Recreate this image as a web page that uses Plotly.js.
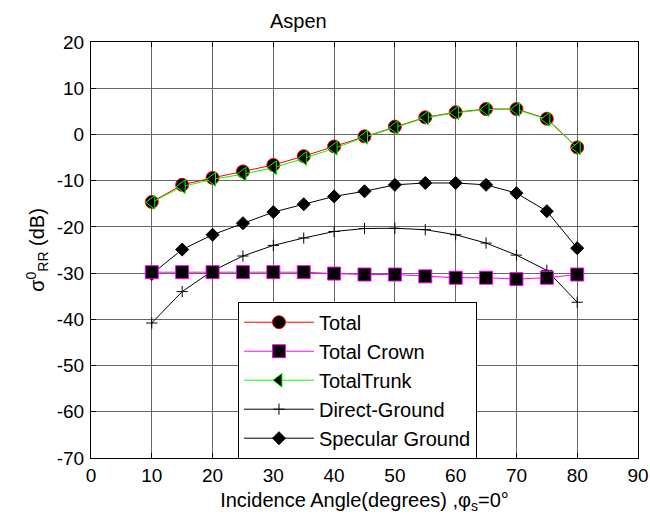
<!DOCTYPE html>
<html>
<head>
<meta charset="utf-8">
<script src="https://cdn.plot.ly/plotly-3.0.1.min.js"></script>
<style>html,body{margin:0;padding:0;background:#fff;}#chart{width:650px;height:516px;}</style>
</head>
<body>
<div id="chart"></div>
<script>
// Incidence angles (degrees)
const angles = [10, 15, 20, 25, 30, 35, 40, 45, 50, 55, 60, 65, 70, 75, 80];
// Backscatter sigma0 RR (dB)
const totalVals = [-14.6, -10.9, -9.4, -8.0, -6.6, -4.7, -2.6, -0.4, 1.7, 3.7, 4.8, 5.5, 5.5, 3.4, -2.8];
const crownVals = [-29.8, -29.8, -29.8, -29.8, -29.8, -29.8, -30.1, -30.3, -30.3, -30.7, -31.0, -31.0, -31.3, -31.0, -30.3];
const trunkVals = [-14.7, -11.3, -9.7, -8.6, -7.2, -5.2, -3.0, -0.6, 1.5, 3.6, 4.7, 5.4, 5.4, 3.3, -2.9];
const directVals = [-40.8, -34.0, -29.5, -26.3, -24.0, -22.4, -21.0, -20.35, -20.3, -20.6, -21.7, -23.5, -26.1, -29.4, -36.3];
const specularVals = [-30.2, -24.9, -21.7, -19.2, -16.8, -15.1, -13.4, -12.3, -10.9, -10.5, -10.5, -10.9, -12.7, -16.6, -24.6];
const seriesNames = ["Total", "Total Crown", "TotalTrunk", "Direct-Ground", "Specular Ground"];
const xTickVals = [0, 10, 20, 30, 40, 50, 60, 70, 80, 90];
const yTickVals = [-70, -60, -50, -40, -30, -20, -10, 0, 10, 20];

const FONT = "Liberation Sans, Arial, Helvetica, sans-serif";

const traces = [
  {x: angles, y: specularVals, name: seriesNames[4], legendrank: 5, mode: "lines+markers",
   line: {color: "#000000", width: 1},
   marker: {symbol: "diamond", size: 10, color: "#000000", line: {color: "#000000", width: 1}}},
  {x: angles, y: directVals, name: seriesNames[3], legendrank: 4, mode: "lines+markers",
   line: {color: "#000000", width: 1},
   marker: {symbol: "cross-thin-open", size: 8, color: "#000000", line: {color: "#000000", width: 1}}},
  {x: angles, y: totalVals, name: seriesNames[0], legendrank: 1, mode: "lines+markers",
   line: {color: "#ff0000", width: 1},
   marker: {symbol: "circle", size: 13, color: "#000000", line: {color: "#ff0000", width: 1}}},
  {x: angles, y: crownVals, name: seriesNames[1], legendrank: 2, mode: "lines+markers",
   line: {color: "#ff00ff", width: 1},
   marker: {symbol: "square", size: 13, color: "#000000", line: {color: "#ff00ff", width: 1}}},
  {x: angles, y: trunkVals, name: seriesNames[2], legendrank: 3, mode: "lines+markers",
   line: {color: "#00ff00", width: 1},
   marker: {symbol: "triangle-left", size: 12, color: "#000000", line: {color: "#00ff00", width: 1}}}
];

const axisCommon = {
  showline: true, linecolor: "#000000", linewidth: 1, mirror: "ticks",
  ticks: "inside", ticklen: 5, tickcolor: "#000000",
  showgrid: true, gridcolor: "#666666", gridwidth: 1, zeroline: false,
  tickfont: {family: FONT, size: 19, color: "#000000"}
};

const layout = {
  width: 650, height: 516,
  paper_bgcolor: "#ffffff", plot_bgcolor: "#ffffff",
  margin: {l: 91, r: 12, t: 42, b: 58},
  font: {family: FONT, size: 20, color: "#000000"},
  title: {text: "Aspen", x: 0.459, xanchor: "center", y: 0.96, yanchor: "middle",
          font: {family: FONT, size: 20, color: "#000000"}},
  xaxis: Object.assign({}, axisCommon, {
    range: [0, 90], tickvals: xTickVals, ticktext: xTickVals.map(String),
    title: {text: "Incidence Angle(degrees) ,φ<sub>s</sub>=0°", standoff: 8,
            font: {family: FONT, size: 20, color: "#000000"}}
  }),
  yaxis: Object.assign({}, axisCommon, {
    range: [-70, 20], tickvals: yTickVals, ticktext: yTickVals.map(String),
    ticklabelstandoff: 2,
    title: {text: "σ<sup>0</sup><sub>RR</sub> (dB)", standoff: 6,
            font: {family: FONT, size: 20, color: "#000000"}}
  }),
  showlegend: true,
  legend: {x: 0.2687, y: 0.3757, xanchor: "left", yanchor: "top",
           bgcolor: "#ffffff", bordercolor: "#000000", borderwidth: 1,
           font: {family: FONT, size: 20, color: "#000000"},
           itemwidth: 70, tracegroupgap: 0}
};

Plotly.newPlot("chart", traces, layout, {displayModeBar: false, staticPlot: true});
</script>
</body>
</html>
